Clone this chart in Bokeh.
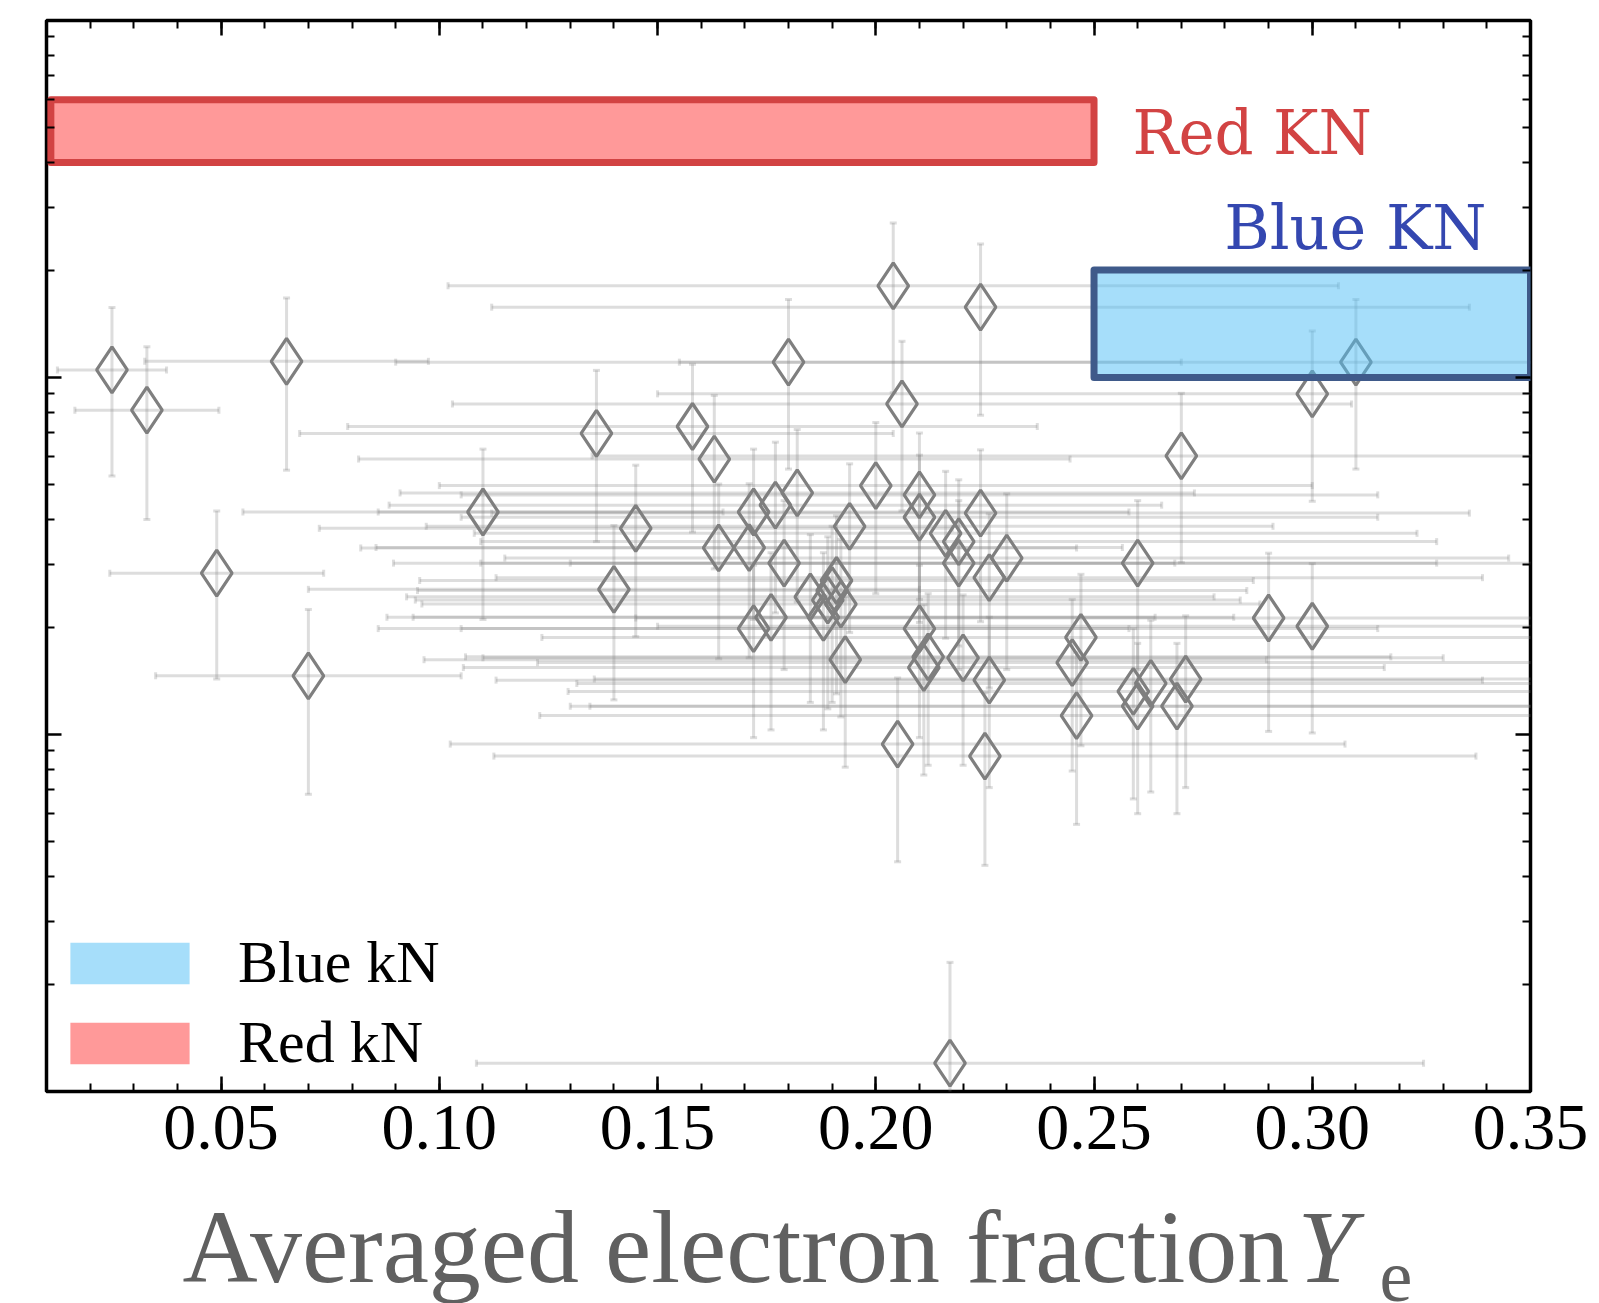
import numpy as np
from bokeh.plotting import figure
from bokeh.layouts import column
from bokeh.core.properties import value
from bokeh.models import (ColumnDataSource, FixedTicker, LinearAxis, LogAxis, Label,
                          Legend, LegendItem, PrintfTickFormatter, Range1d)
from bokeh.embed import file_html
from bokeh.resources import INLINE

# ---------------- data ----------------
ye = [0.025, 0.033, 0.065, 0.049, 0.070, 0.110, 0.136, 0.140, 0.145, 0.158,
      0.163, 0.164, 0.171, 0.172, 0.172, 0.176, 0.177, 0.179, 0.180, 0.182,
      0.185, 0.188, 0.189, 0.190, 0.191, 0.192, 0.193, 0.194, 0.200, 0.204,
      0.205, 0.206, 0.210, 0.210, 0.210, 0.211, 0.212, 0.216, 0.217, 0.219,
      0.219, 0.220, 0.224, 0.224, 0.226, 0.226, 0.225, 0.230, 0.245, 0.246,
      0.247, 0.259, 0.260, 0.260, 0.263, 0.269, 0.270, 0.271, 0.290, 0.300,
      0.300, 0.310]
mej = [0.0105, 0.0081, 0.0111, 0.00283, 0.00146, 0.0042, 0.00697, 0.00255, 0.00378, 0.00729,
       0.00591, 0.00333, 0.00334, 0.0042, 0.00198, 0.00213, 0.00439, 0.00302, 0.01104, 0.00475,
       0.00243, 0.00213, 0.00238, 0.00253, 0.0027, 0.00232, 0.00162, 0.00383, 0.00498, 0.01807,
       0.00094, 0.00843, 0.00469, 0.00406, 0.00198, 0.00154, 0.00165, 0.00366, 0.00012, 0.00347,
       0.00302, 0.00164, 0.01574, 0.00417, 0.00275, 0.00142, 0.00087, 0.00312, 0.00159, 0.00113,
       0.00187, 0.00132, 0.00302, 0.0012, 0.00139, 0.0012, 0.00603, 0.00143, 0.00212, 0.009,
       0.00201, 0.01104]
ye_err = [0.0125, 0.0165, 0.0325, 0.0245, 0.035, 0.055, 0.068, 0.070, 0.0725, 0.079,
          0.0815, 0.082, 0.0855, 0.086, 0.086, 0.088, 0.0885, 0.0895, 0.090, 0.091,
          0.0925, 0.094, 0.0945, 0.095, 0.0955, 0.096, 0.0965, 0.097, 0.100, 0.102,
          0.1025, 0.103, 0.105, 0.105, 0.105, 0.1055, 0.106, 0.108, 0.1085, 0.1095,
          0.1095, 0.110, 0.112, 0.112, 0.113, 0.113, 0.1125, 0.115, 0.1225, 0.123,
          0.1235, 0.1295, 0.130, 0.130, 0.1315, 0.1345, 0.135, 0.1355, 0.145, 0.150,
          0.150, 0.155]
mej_err = [0.0052, 0.0041, 0.0056, 0.0014, 0.00078, 0.0021, 0.0035, 0.0013, 0.0019, 0.0036,
           0.0030, 0.0017, 0.0017, 0.0021, 0.0010, 0.0011, 0.0022, 0.0015, 0.0055, 0.0024,
           0.0012, 0.0011, 0.0012, 0.0013, 0.0014, 0.0012, 0.00081, 0.0019, 0.0025, 0.0090,
           0.00050, 0.0042, 0.0023, 0.0020, 0.0010, 0.00077, 0.00083, 0.0018, 0.00011, 0.0017,
           0.0015, 0.00082, 0.0079, 0.0021, 0.0014, 0.00071, 0.00044, 0.0016, 0.00080, 0.00057,
           0.00094, 0.00066, 0.0015, 0.00060, 0.00070, 0.00060, 0.0030, 0.00072, 0.0011, 0.0045,
           0.0010, 0.0055]

kn_name = ["Red KN", "Blue KN"]
kn_ye_lo = [0.011, 0.25]
kn_ye_hi = [0.25, 0.35]
kn_m_lo = [0.04, 0.01]
kn_m_hi = [0.06, 0.02]

legend_labels = ["Blue kN", "Red kN"]
xlabel_parts = ["Averaged electron fraction", "Y", "e"]

x_major = [0.00, 0.05, 0.10, 0.15, 0.20, 0.25, 0.30, 0.35]
x_minor = [round(0.01 * i, 2) for i in range(0, 36)]
y_major = [1e-4, 1e-3, 1e-2, 1e-1]
y_minor = [k * 10.0 ** e for e in (-4, -3, -2) for k in range(2, 10)]

# ---------------- styles ----------------
RED_FILL, RED_EDGE, RED_TEXT = "#ff3333", "#d24343", "#d24343"
BLUE_FILL, BLUE_EDGE, BLUE_TEXT = "#4dbdf5", "#3f5a8a", "#3447b0"
ERR_COLOR, ERR_ALPHA = "#808080", 0.27
SERIF_TICK = "Liberation Serif"
W = 1599
H_MAIN = 1185
H_LABEL = 1303 - H_MAIN
BL, BR = 46, 69          # left / right borders of the plot frame

p = figure(width=W, height=H_MAIN, x_range=(0.01, 0.35), y_range=(1e-4, 1e-1),
           y_axis_type="log", output_backend="svg", toolbar_location=None, title=None,
           min_border_left=BL, min_border_right=BR, min_border_top=20, min_border_bottom=94,
           background_fill_color="white", border_fill_color="white",
           outline_line_color="black", outline_line_width=3.5)
p.grid.visible = False

xt = FixedTicker(ticks=x_major, minor_ticks=x_minor)
yt = FixedTicker(ticks=y_major, minor_ticks=y_minor)


def style_axis(ax, show_labels=False):
    ax.axis_line_color = None
    ax.major_tick_in = 15
    ax.major_tick_out = 0
    ax.minor_tick_in = 8
    ax.minor_tick_out = 0
    ax.major_tick_line_width = 2.5
    ax.minor_tick_line_width = 2
    ax.major_tick_line_color = "black"
    ax.minor_tick_line_color = "black"
    if not show_labels:
        ax.major_label_text_font_size = "2px"
        ax.major_label_text_color = None
        ax.major_label_standoff = 0


bx = p.xaxis[0]
bx.ticker = xt
bx.formatter = PrintfTickFormatter(format="%.2f")
style_axis(bx, True)
bx.major_label_text_font = SERIF_TICK
bx.major_label_text_font_size = "66px"
bx.major_label_text_color = "black"
bx.major_label_standoff = 14

ly = p.yaxis[0]
ly.ticker = yt
style_axis(ly)

ta = LinearAxis(ticker=FixedTicker(ticks=x_major, minor_ticks=x_minor))
style_axis(ta)
p.add_layout(ta, "above")

ra = LogAxis(ticker=FixedTicker(ticks=y_major, minor_ticks=y_minor))
style_axis(ra)
p.add_layout(ra, "right")

# ---------------- error bars + points ----------------
xs = np.array(ye)
ys = np.array(mej)
xe = np.array(ye_err)
yerr = np.array(mej_err)
src = ColumnDataSource(dict(x=xs, y=ys, xl=xs - xe, xh=xs + xe, yl=ys - yerr, yh=ys + yerr))

err_kw = dict(line_color=ERR_COLOR, line_alpha=ERR_ALPHA, line_width=3)
p.segment(x0="xl", y0="y", x1="xh", y1="y", source=src, **err_kw)
p.segment(x0="x", y0="yl", x1="x", y1="yh", source=src, **err_kw)
for cx, cy, ang in (("xl", "y", np.pi / 2), ("xh", "y", np.pi / 2), ("x", "yl", 0.0), ("x", "yh", 0.0)):
    p.scatter(x=cx, y=cy, source=src, marker="dash", angle=ang, size=7, **err_kw)

p.scatter(x="x", y="y", source=src, marker="diamond", size=46, fill_color=None,
          line_color="#7f7f7f", line_width=3.2)

# ---------------- kilonova boxes ----------------
kn_src = ColumnDataSource(dict(l=kn_ye_lo, r=kn_ye_hi, b=kn_m_lo, t=kn_m_hi,
                               fc=[RED_FILL, BLUE_FILL], lc=[RED_EDGE, BLUE_EDGE], name=kn_name))
p.quad(left="l", right="r", bottom="b", top="t", source=kn_src, fill_color="fc", fill_alpha=0.5,
       line_color="lc", line_width=7, line_join="round")

# legend swatches (fill only); one off-range point each so the bbox is finite
sw_src = ColumnDataSource(dict(l=[-1.0], r=[-0.9], b=[1.0], t=[2.0]))
r_blue = p.quad(left="l", right="r", bottom="b", top="t", source=sw_src,
                fill_color=BLUE_FILL, fill_alpha=0.5, line_color=None)
r_red = p.quad(left="l", right="r", bottom="b", top="t", source=sw_src,
               fill_color=RED_FILL, fill_alpha=0.5, line_color=None)
legend = Legend(items=[LegendItem(label=legend_labels[0], renderers=[r_blue]),
                       LegendItem(label=legend_labels[1], renderers=[r_red])],
                location=(9, 14), glyph_width=149, glyph_height=52, label_standoff=34,
                spacing=11, padding=0, margin=0,
                label_text_font=SERIF_TICK, label_text_font_size="60px", label_text_color="black",
                border_line_color=None, background_fill_alpha=0)
p.add_layout(legend)

# ---------------- annotations ----------------
p.add_layout(Label(x=1086, y=959, x_units="screen", y_units="screen", text=kn_name[0],
                   text_font="DejaVu Serif", text_font_size="61px", text_color=RED_TEXT,
                   text_align="left", text_baseline="alphabetic"))
p.add_layout(Label(x=1440, y=864, x_units="screen", y_units="screen", text=kn_name[1],
                   text_font="DejaVu Serif", text_font_size="62px", text_color=BLUE_TEXT,
                   text_align="right", text_baseline="alphabetic"))

# ---------------- x-axis title strip (allows italic Y and subscript e) ----------------
# strip coordinates: x = page pixels, y = pixels above the bottom of the page
AXC = "#606060"
q = figure(width=W, height=H_LABEL, x_range=Range1d(BL, W - BR), y_range=Range1d(0, H_LABEL),
           output_backend="svg", toolbar_location=None, title=None,
           x_axis_location=None, y_axis_location=None,
           min_border=0, min_border_left=BL, min_border_right=BR, min_border_top=0, min_border_bottom=0,
           outline_line_color=None, background_fill_color="white", border_fill_color="white")
q.grid.visible = False
q.text(x=[182], y=[57], text=[xlabel_parts[0]], text_font=value("Liberation Serif"),
       text_font_size="104px", text_color=AXC, text_baseline="alphabetic", text_align="left")
q.text(x=[1297], y=[57], text=[xlabel_parts[1]], text_font=value("Liberation Serif"),
       text_font_style="italic", text_font_size="104px", text_color=AXC,
       text_baseline="alphabetic", text_align="left")
q.text(x=[1379], y=[27], text=[xlabel_parts[2]], text_font=value("Liberation Serif"),
       text_font_size="74px", text_color=AXC, text_baseline="alphabetic", text_align="left")

layout = column(p, q, spacing=0)
open("out.html", "w").write(file_html(layout, INLINE))
